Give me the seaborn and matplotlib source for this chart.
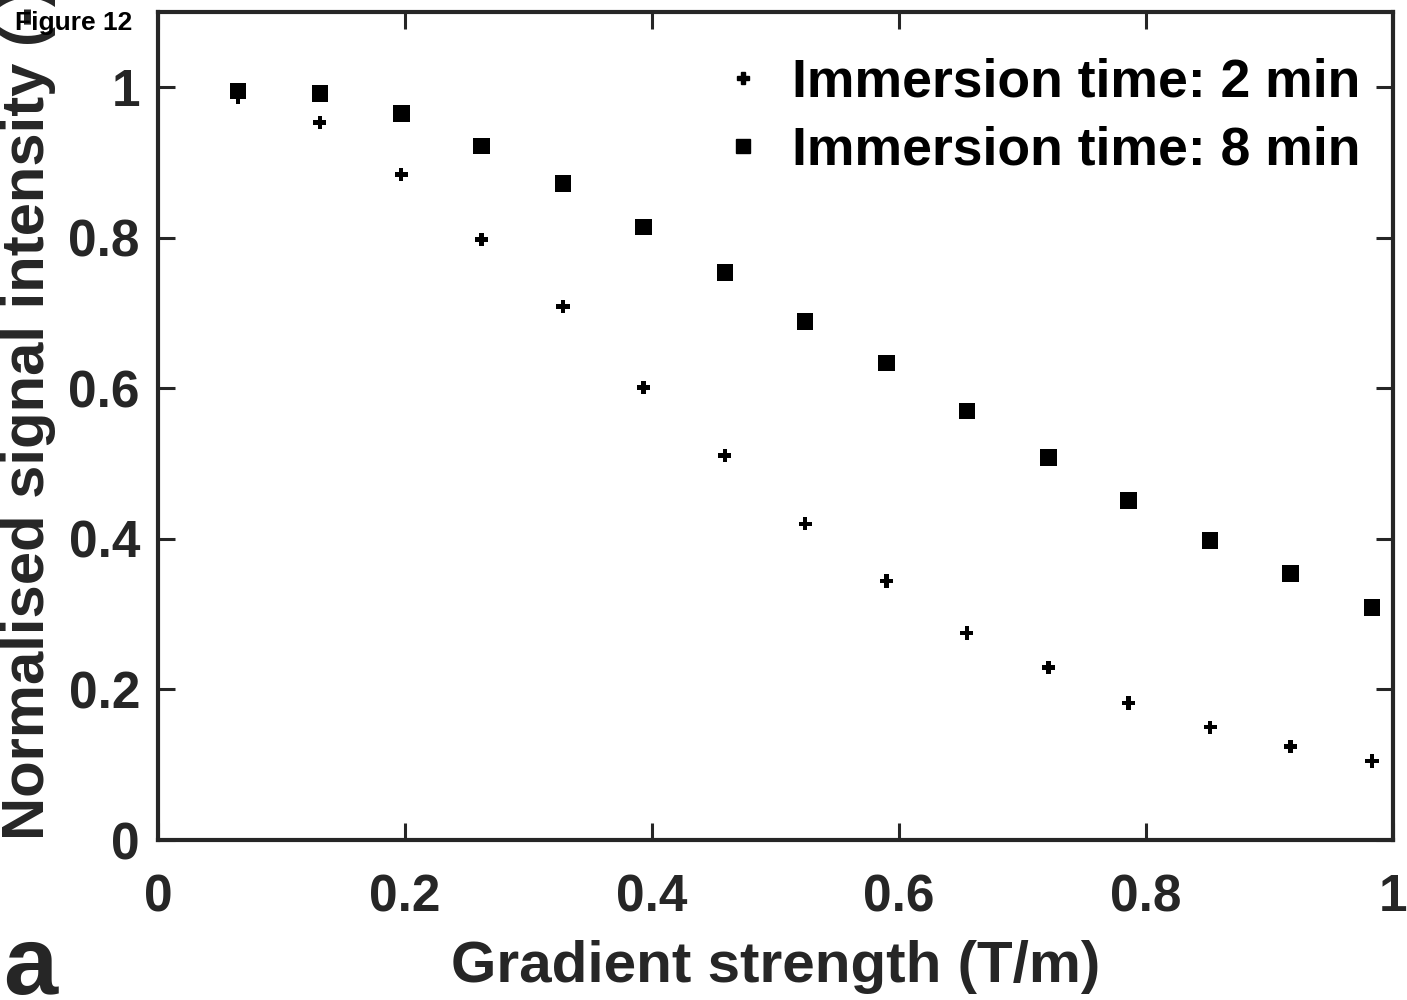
import matplotlib
matplotlib.use("Agg")
import matplotlib.pyplot as plt
import seaborn as sns
import pandas as pd
from matplotlib.lines import Line2D

gradient = [0.065, 0.131, 0.197, 0.262, 0.328, 0.393, 0.459, 0.524,
            0.590, 0.655, 0.721, 0.786, 0.852, 0.917, 0.983]
signal_2min = [0.987, 0.953, 0.884, 0.798, 0.709, 0.601, 0.511, 0.420,
               0.344, 0.275, 0.229, 0.182, 0.150, 0.124, 0.105]
signal_8min = [0.995, 0.992, 0.965, 0.922, 0.872, 0.814, 0.754, 0.689,
               0.634, 0.570, 0.508, 0.451, 0.398, 0.354, 0.309]
series_labels = ["Immersion time: 2 min", "Immersion time: 8 min"]
x_ticks = [0, 0.2, 0.4, 0.6, 0.8, 1]
x_tick_labels = ["0", "0.2", "0.4", "0.6", "0.8", "1"]
y_ticks = [0, 0.2, 0.4, 0.6, 0.8, 1]
y_tick_labels = ["0", "0.2", "0.4", "0.6", "0.8", "1"]

df = pd.DataFrame({
    "x": gradient + gradient,
    "y": signal_2min + signal_8min,
    "series": [series_labels[0]] * len(gradient) + [series_labels[1]] * len(gradient),
})

sns.set_theme(style="white")
plt.rcParams["font.family"] = ["Liberation Sans", "DejaVu Sans"]
plt.rcParams["font.weight"] = "bold"

dark = "#262626"
fig = plt.figure(figsize=(14.07, 10), dpi=100)
ax = fig.add_axes([0.1123, 0.16, 0.8777, 0.828])

sns.scatterplot(data=df, x="x", y="y", hue="series", style="series",
                markers={series_labels[0]: "P", series_labels[1]: "s"},
                palette={series_labels[0]: "black", series_labels[1]: "black"},
                size="series", sizes={series_labels[0]: 90, series_labels[1]: 140},
                edgecolor="black", linewidth=0, ax=ax, legend=False)

ax.set_xlim(0, 1)
ax.set_ylim(0, 1.1)
ax.set_xticks(x_ticks)
ax.set_xticklabels(x_tick_labels)
ax.set_yticks(y_ticks)
ax.set_yticklabels(y_tick_labels)
ax.tick_params(direction="in", length=12, width=2.2, colors=dark,
               labelsize=37, top=True, right=True, left=True, bottom=True,
               labelcolor=dark)
ax.tick_params(axis="x", pad=24)
ax.tick_params(axis="y", pad=13)
for lab in ax.get_xticklabels() + ax.get_yticklabels():
    lab.set_fontweight("bold")
for sp in ax.spines.values():
    sp.set_visible(True)
    sp.set_color(dark)
    sp.set_linewidth(3)

ax.set_xlabel("Gradient strength (T/m)", fontsize=42, fontweight="bold",
              color=dark)
ax.xaxis.set_label_coords(0.5, -0.121)
ax.set_ylabel("Normalised signal intensity (-)", fontsize=43, fontweight="bold",
              color=dark)
ax.yaxis.set_label_coords(-0.083, 0.516)

handles = [
    Line2D([], [], marker="P", color="black", linestyle="none", markersize=9),
    Line2D([], [], marker="s", color="black", linestyle="none", markersize=10),
]
leg = ax.legend(handles, series_labels, loc="upper right", frameon=False,
                prop={"size": 38.5, "weight": "bold"}, handletextpad=0.42,
                borderaxespad=0.35, labelspacing=0.33, handlelength=1.0,
                bbox_to_anchor=(1.006, 0.993))
for t in leg.get_texts():
    t.set_color("black")

fig.text(0.011, 0.977, "Figure 12", fontsize=19, fontweight="bold", color="black",
         ha="left", va="center")
fig.text(0.002, 0.006, "a", fontsize=70, fontweight="bold", color=dark,
         ha="left", va="baseline")

fig.savefig("out.png", dpi=100, facecolor="white")
